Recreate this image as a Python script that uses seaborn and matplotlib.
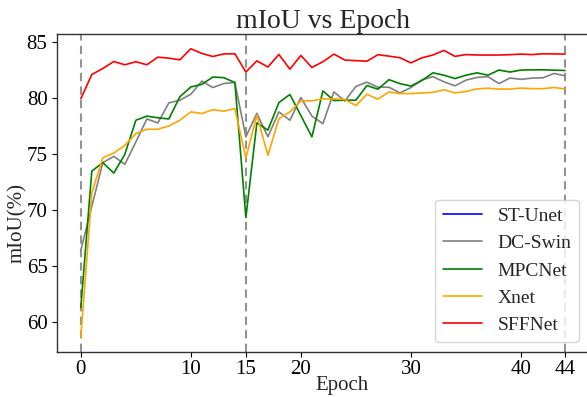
import numpy as np
import pandas as pd
import matplotlib
matplotlib.use("Agg")
import matplotlib.pyplot as plt
import seaborn as sns

epochs = list(range(45))
sffnet = [79.9, 82.06, 82.6, 83.22, 82.93, 83.2, 82.93, 83.61, 83.52, 83.37,
          84.36, 83.94, 83.67, 83.9, 83.91, 82.28, 83.28, 82.73, 83.85, 82.54,
          83.76, 82.69, 83.2, 83.88, 83.35, 83.3, 83.25, 83.83, 83.7, 83.56,
          83.1, 83.55, 83.8, 84.21, 83.68, 83.84, 83.8, 83.8, 83.8, 83.83,
          83.88, 83.84, 83.91, 83.9, 83.88]
mpcnet = [61.3, 73.45, 74.2, 73.27, 74.94, 77.98, 78.35, 78.2, 78.1, 80.08,
          80.95, 81.18, 81.84, 81.78, 81.35, 69.3, 77.75, 77.1, 79.56, 80.28,
          78.4, 76.5, 80.6, 79.74, 79.77, 79.77, 81.08, 80.75, 81.6, 81.25,
          81.03, 81.53, 82.21, 82.0, 81.7, 82.0, 82.21, 82.0, 82.46, 82.28,
          82.46, 82.48, 82.48, 82.45, 82.42]
dcswin = [66.4, 70.3, 74.2, 74.76, 74.05, 76.04, 78.1, 77.74, 79.53, 79.77,
          80.3, 81.47, 80.9, 81.26, 81.35, 76.5, 78.6, 76.5, 78.73, 77.98,
          80.0, 78.35, 77.68, 80.51, 79.7, 81.0, 81.38, 80.93, 80.93, 80.42,
          80.9, 81.58, 81.87, 81.41, 81.05, 81.56, 81.8, 81.87, 81.25, 81.75,
          81.63, 81.74, 81.77, 82.15, 81.95]
xnet = [58.6, 71.5, 74.64, 75.06, 75.74, 76.79, 77.18, 77.18, 77.47, 77.98,
        78.73, 78.58, 78.93, 78.79, 79.02, 74.61, 78.43, 74.85, 78.13, 78.73,
        79.71, 79.71, 79.89, 79.89, 79.83, 79.29, 80.3, 79.86, 80.51, 80.36,
        80.36, 80.42, 80.47, 80.7, 80.42, 80.54, 80.78, 80.84, 80.76, 80.76,
        80.85, 80.8, 80.8, 80.9, 80.78]
stunet = []  # no visible curve in the chart, legend entry only

series_names = ["ST-Unet", "DC-Swin", "MPCNet", "Xnet", "SFFNet"]
colors = ["blue", "gray", "green", "orange", "red"]
vlines = [0, 15, 44]
xticks = [0, 10, 15, 20, 30, 40, 44]
yticks = [60, 65, 70, 75, 80, 85]

sns.set_theme(style="ticks")
plt.rcParams["font.family"] = ["Liberation Serif", "DejaVu Serif"]

fig = plt.figure(figsize=(5.87, 3.97), dpi=100)
ax = fig.add_axes([56.6 / 587, 45 / 397, (589.2 - 56.6) / 587, (352 - 34.3) / 397])

ax.plot(stunet, stunet, color=colors[0], lw=1.2, label=series_names[0])
for name, vals, c in zip(series_names[1:], [dcswin, mpcnet, xnet, sffnet], colors[1:]):
    df = pd.DataFrame({"Epoch": epochs, "mIoU": vals})
    sns.lineplot(data=df, x="Epoch", y="mIoU", color=c, lw=1.2, label=name, ax=ax)

for v in vlines:
    ax.axvline(v, color="gray", ls=(0, (4, 2.5)), lw=1.5, alpha=0.85, zorder=0)

ax.set_xticks(xticks)
ax.set_yticks(yticks)
ax.tick_params(labelsize=15, colors="black", length=3.5, width=0.8)
ax.tick_params(axis="x", pad=2)
ax.tick_params(axis="y", pad=3)
ax.set_xlabel("Epoch", fontsize=15)
ax.set_ylabel("mIoU(%)", fontsize=15)
ax.xaxis.set_label_coords(0.536, -0.104)
ax.yaxis.set_label_coords(-0.073, 0.406)
ax.xaxis.label.set_verticalalignment("center")
ax.yaxis.label.set_verticalalignment("center")
ax.set_title("mIoU vs Epoch", fontsize=20, pad=3)
for s in ax.spines.values():
    s.set_color("#333333")
    s.set_linewidth(1.0)

ax.legend(loc="lower right", fontsize=14, labelspacing=0.5, frameon=True,
          bbox_to_anchor=(579 / 587, 1 - 342 / 397), bbox_transform=fig.transFigure,
          borderaxespad=0, handlelength=2.0)

fig.savefig("out.png", dpi=100)
